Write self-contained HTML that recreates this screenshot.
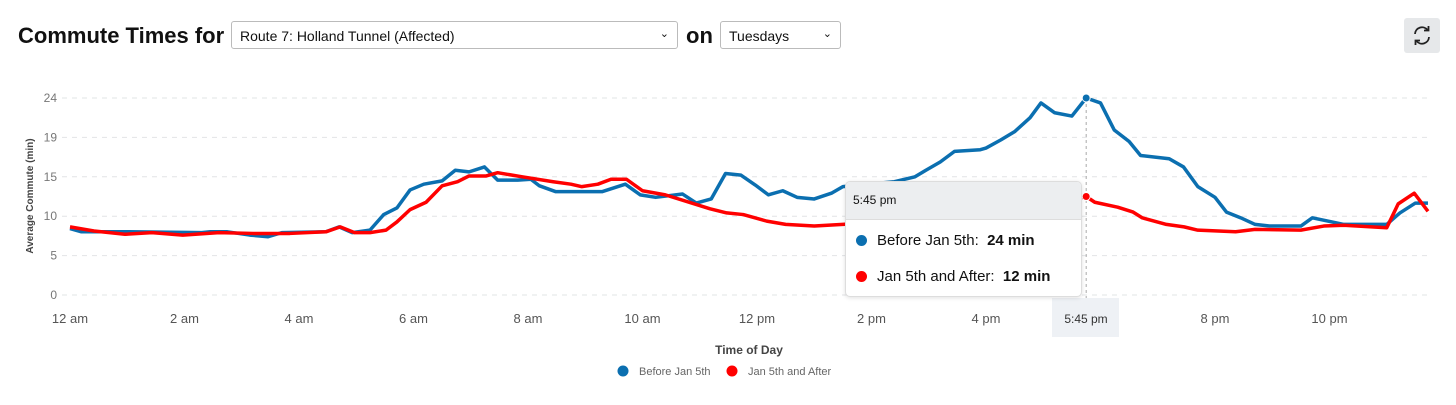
<!DOCTYPE html>
<html><head><meta charset="utf-8"><style>
body{margin:0;width:1456px;height:405px;background:#fff;font-family:"Liberation Sans",sans-serif;overflow:hidden;position:relative}
.title{position:absolute;left:18px;top:23px;font-size:22px;font-weight:bold;color:#111}
.sel{position:absolute;top:21px;height:28px;border:1px solid #bbb;border-radius:3px;font-size:14px;color:#111;box-sizing:border-box;padding:6px 8px;background:#fff}
.sel span{position:absolute;right:8px;top:5px;font-size:11px}
.tt{position:absolute;left:845px;top:181px;width:235px;height:114px;background:#fff;border:1px solid #ddd;border-radius:5px;box-shadow:0 1px 4px rgba(0,0,0,.12);overflow:hidden;font-size:15px;color:#111}
.tt .h{background:#eceef0;height:37px;font-size:12px;line-height:37px;padding-left:7px;border-bottom:1px solid #ddd}
.tt .r{position:absolute;left:10px;display:flex;align-items:center}
.dot{width:11px;height:11px;border-radius:50%;display:inline-block;margin-right:10px}
</style></head><body>
<div class="title">Commute Times for</div>
<div class="sel" style="left:231px;width:447px">Route 7: Holland Tunnel (Affected)<span>&#8964;</span></div>
<div class="title" style="left:686px">on</div>
<div class="sel" style="left:720px;width:121px">Tuesdays<span>&#8964;</span></div>
<div style="position:absolute;left:1404px;top:18px;width:36px;height:35px;background:#e6e8ea;border-radius:3px">
<svg width="36" height="35" viewBox="0 0 36 35"><path d="M11 16a7 7 0 0 1 12.5-4M25 19a7 7 0 0 1-12.5 4" fill="none" stroke="#222" stroke-width="1.8"/><path d="M24.5 8v4.5H20M11.5 27v-4.5H16" fill="none" stroke="#222" stroke-width="1.8"/></svg></div>
<svg id="chart" width="1456" height="405" style="position:absolute;left:0;top:0"></svg>
<div class="tt">
<div class="h">5:45 pm</div>
<div class="r" style="top:50px"><span class="dot" style="background:#0b6fb0"></span>Before Jan 5th:&nbsp;&nbsp;<b>24 min</b></div>
<div class="r" style="top:86px"><span class="dot" style="background:#f00"></span>Jan 5th and After:&nbsp;&nbsp;<b>12 min</b></div>
</div>
<script>
const yTicks=[0,5,10,15,19,24];
const xTickHours=[0,2,4,6,8,10,12,14,16,20,22];
const xTickLabels=["12 am","2 am","4 am","6 am","8 am","10 am","12 pm","2 pm","4 pm","8 pm","10 pm"];
const blueT=[0,0.2,1.03,2.3,2.45,2.75,3.14,3.46,3.7,4.47,4.7,4.93,5.24,5.48,5.71,5.94,6.18,6.5,6.73,6.97,7.24,7.47,7.82,8.05,8.2,8.48,9.3,9.7,9.96,10.23,10.7,10.94,11.2,11.45,11.72,11.97,12.2,12.45,12.7,13.0,13.3,13.5,14.4,14.76,14.95,15.2,15.45,15.9,16.0,16.26,16.5,16.77,16.96,17.2,17.5,17.75,18.0,18.24,18.5,18.7,19.2,19.45,19.7,20.0,20.2,20.45,20.7,20.95,21.5,21.7,22.25,23.0,23.23,23.5,23.72];
const blueV=[8.1,7.7,7.7,7.6,7.7,7.7,7.3,7.1,7.6,7.7,8.3,7.6,7.9,9.8,10.6,12.8,13.5,13.9,15.2,15.0,15.6,14.0,14.0,14.1,13.3,12.6,12.6,13.5,12.2,11.9,12.3,11.2,11.7,14.8,14.6,13.4,12.2,12.7,11.9,11.7,12.4,13.2,13.8,14.4,15.2,16.2,17.5,17.7,17.9,18.9,19.9,21.6,23.4,22.2,21.8,24.0,23.4,20.1,18.7,17.0,16.6,15.6,13.2,11.9,10.1,9.4,8.6,8.4,8.4,9.4,8.6,8.6,10.0,11.2,11.2];
const redT=[0,0.42,0.96,1.43,1.97,2.6,3.2,3.84,4.47,4.72,4.97,5.24,5.52,5.71,5.94,6.22,6.5,6.77,6.97,7.27,7.47,7.9,8.44,8.75,8.94,9.22,9.45,9.72,10.0,10.4,10.86,11.18,11.47,11.76,12.17,12.5,13.0,13.5,14.0,15.0,16.0,17.0,17.75,17.9,18.3,18.57,18.73,19.15,19.46,19.7,20.36,20.7,21.5,21.9,22.25,23.0,23.2,23.48,23.72];
const redV=[8.3,7.8,7.4,7.6,7.3,7.6,7.5,7.5,7.7,8.3,7.6,7.6,7.9,8.9,10.4,11.3,13.3,13.8,14.5,14.5,14.9,14.4,13.8,13.5,13.2,13.5,14.1,14.1,12.7,12.2,11.2,10.5,10.0,9.8,9.0,8.6,8.4,8.6,8.8,9.3,10.0,10.8,12.0,11.3,10.7,10.1,9.4,8.6,8.3,7.9,7.7,8.0,7.9,8.4,8.5,8.2,11.1,12.4,10.2];
const NS="http://www.w3.org/2000/svg";
const svg=document.getElementById('chart');
const X=h=>70+h*57.25;
const Y=v=>295-v*197/24;
function mk(tag,attrs,parent){const e=document.createElementNS(NS,tag);for(const k in attrs)e.setAttribute(k,attrs[k]);(parent||svg).appendChild(e);return e;}
yTicks.forEach((t,i)=>{
 const yy=Y(i*4.8);
 const l=mk('line',{x1:62,x2:1428,y1:yy,y2:yy,stroke:'#e2e4e6','stroke-dasharray':'5,5'});
 
 
 const tx=mk('text',{x:57,y:yy+4,'text-anchor':'end','font-size':12,fill:'#777'});
 tx.textContent=t;
 
 
});
xTickHours.forEach((h,i)=>{
 const tx=mk('text',{x:X(h),y:323,'text-anchor':'middle','font-size':13,fill:'#555'});
 tx.textContent=xTickLabels[i];
 
 
});
const yt=mk('text',{x:0,y:0,transform:'translate(33,196) rotate(-90)','text-anchor':'middle','font-size':10,'font-weight':'bold',fill:'#444'});
yt.textContent='Average Commute (min)';


const xt=mk('text',{x:749,y:354,'text-anchor':'middle','font-size':12,'font-weight':'bold',fill:'#444'});
xt.textContent='Time of Day';


function series(T,V,color,name){
 const p=mk('polyline',{points:T.map((t,i)=>X(t)+','+Y(V[i])).join(' '),fill:'none',stroke:color,'stroke-width':3.5,'stroke-linejoin':'round'});
 
 
}
series(blueT,blueV,'#0b6fb0','line-before-jan-5');
series(redT,redV,'#f00','line-jan-5-and-after');
const cl=mk('line',{x1:X(17.75),x2:X(17.75),y1:98,y2:300,stroke:'#aaa','stroke-dasharray':'3,3'});


const d1=mk('circle',{cx:X(17.75),cy:Y(24),r:4,fill:'#0b6fb0',stroke:'#fff'});


const d2=mk('circle',{cx:X(17.75),cy:Y(12),r:4,fill:'#f00',stroke:'#fff'});


const xb=mk('rect',{x:1052,y:298,width:67,height:39,fill:'#eef1f5'});


const xl=mk('text',{x:1086,y:323,'text-anchor':'middle','font-size':12,fill:'#333'});
xl.textContent='5:45 pm';


[[623,'#0b6fb0','Before Jan 5th','legend-before'],[732,'#f00','Jan 5th and After','legend-after']].forEach(a=>{
 const g=mk('g',{});
 
 
 mk('circle',{cx:a[0],cy:371,r:5.5,fill:a[1]},g);
 const t=mk('text',{x:a[0]+16,y:375,'font-size':11,fill:'#666'},g);
 t.textContent=a[2];
});
</script>
</body></html>
